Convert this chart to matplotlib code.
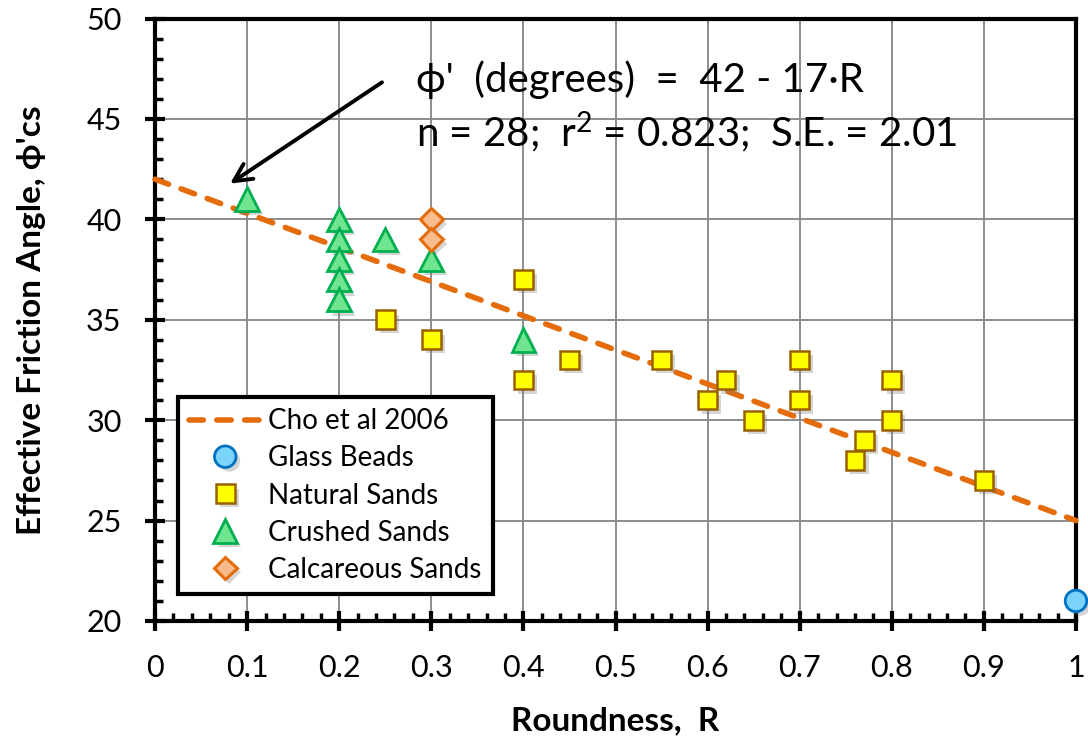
import matplotlib
matplotlib.use("Agg")
import matplotlib.pyplot as plt
import matplotlib.patheffects as pe
import numpy as np

plt.rcParams['font.family'] = ['Lato', 'DejaVu Sans']
plt.rcParams['mathtext.fontset'] = 'custom'
plt.rcParams['mathtext.rm'] = 'Lato'
plt.rcParams['mathtext.it'] = 'Lato'

# Data
glass_R = [1.0]
glass_phi = [21]
natural_R = [0.25, 0.3, 0.4, 0.4, 0.45, 0.55, 0.6, 0.62, 0.65, 0.7, 0.7, 0.76, 0.77, 0.8, 0.8, 0.9]
natural_phi = [35, 34, 37, 32, 33, 33, 31, 32, 30, 33, 31, 28, 29, 32, 30, 27]
crushed_R = [0.1, 0.2, 0.2, 0.2, 0.2, 0.2, 0.25, 0.3, 0.4]
crushed_phi = [41, 40, 39, 38, 37, 36, 39, 38, 34]
calc_R = [0.3, 0.3]
calc_phi = [40, 39]
fit_intercept = 42
fit_slope = -17
fit_R = [0.0, 1.0]
xtick_labels = ['0', '0.1', '0.2', '0.3', '0.4', '0.5', '0.6', '0.7', '0.8', '0.9', '1']

fig = plt.figure(figsize=(10.88, 7.49), dpi=100)
ax = fig.add_axes([155/1088, 1-621/749, (1076-155)/1088, (621-18.5)/749])

shadow = [pe.SimplePatchShadow(offset=(3, -3), alpha=0.3, shadow_rgbFace='#777777'), pe.Normal()]

fit_phi = [fit_intercept + fit_slope*r for r in fit_R]
ax.plot(fit_R, fit_phi, color='#E46C0A', lw=4.0, ls=(0, (2.6, 2.4)),
        dash_capstyle='round', label='Cho et al 2006', zorder=3, clip_on=False)

l1, = ax.plot(glass_R, glass_phi, ls='none', marker='o', ms=15.5, mfc='#79D3FA', mec='#0070C0',
        mew=2, label='Glass Beads', zorder=4, clip_on=False)
l2, = ax.plot(natural_R, natural_phi, ls='none', marker='s', ms=13.5, mfc='#FFFF00', mec='#996000',
        mew=1.8, label='Natural Sands', zorder=4)
l3, = ax.plot(crushed_R, crushed_phi, ls='none', marker='^', ms=17, mfc='#6FE58F', mec='#00B050',
        mew=2, label='Crushed Sands', zorder=4)
l4, = ax.plot(calc_R, calc_phi, ls='none', marker='D', ms=11.5, mfc='#F8BB8E', mec='#E46C0A',
        mew=2.2, label='Calcareous Sands', zorder=4)
for l in (l1, l2, l3, l4):
    l.set_path_effects(shadow)

ax.set_xlim(0, 1)
ax.set_ylim(20, 50)
ax.set_xticks(np.arange(0, 1.01, 0.1))
ax.set_xticklabels(xtick_labels)
ax.set_yticks(np.arange(20, 51, 5))
ax.set_xticks(np.arange(0, 1.001, 0.02), minor=True)
ax.set_yticks(np.arange(20, 50.1, 1), minor=True)
ax.grid(True, which='major', color='#8C8C8C', lw=1.4)
ax.set_axisbelow(True)
ax.tick_params(which='major', direction='inout', length=14, width=3, labelsize=22, color='black')
ax.tick_params(axis='x', which='major', pad=17)
ax.tick_params(axis='y', which='major', pad=17)
ax.tick_params(which='minor', direction='in', length=5.5, width=2.5, color='black')
ax.tick_params(which='both', top=False, right=False)
for s in ax.spines.values():
    s.set_linewidth(3)
    s.set_color('black')

ax.set_xlabel('Roundness,  R', fontsize=24, fontweight='bold')
ax.set_ylabel("Effective Friction Angle, \u03d5'cs", fontsize=24, fontweight='bold')
ax.xaxis.set_label_coords(0.5, (621-721)/602.5)
ax.xaxis.label.set_va('center')
ax.yaxis.set_label_coords((32-155)/921, 0.5)
ax.yaxis.label.set_va('center')

ax.text(0.283, 46.95, "\u03d5'  (degrees)  =  42 - 17\u00b7R", fontsize=29, va='center', ha='left')
ax.text(0.283, 44.35, "n = 28;  r$^{2}$ = 0.823;  S.E. = 2.01", fontsize=29, va='center', ha='left')
ax.annotate('', xy=(0.079, 41.7), xytext=(0.249, 46.9),
            arrowprops=dict(arrowstyle='->', lw=2.8, color='black', mutation_scale=32))

leg = ax.legend(loc='lower left', bbox_to_anchor=(0.025, 0.045), fontsize=20, frameon=True,
                fancybox=False, edgecolor='black', framealpha=1, borderpad=0.4,
                labelspacing=0.4, handlelength=2.6, handletextpad=0.25, borderaxespad=0)
leg.get_frame().set_linewidth(3)

fig.savefig('out.png', dpi=100)
